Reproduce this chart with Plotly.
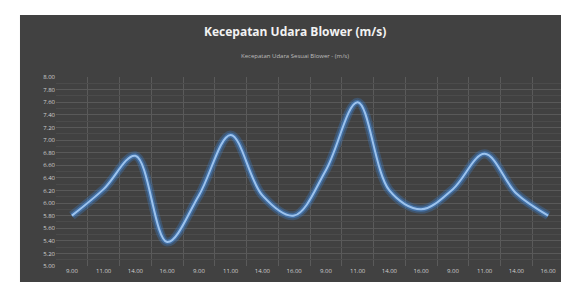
import plotly.graph_objects as go

x_labels = ["9.00", "11.00", "14.00", "16.00", "9.00", "11.00", "14.00", "16.00",
            "9.00", "11.00", "14.00", "16.00", "9.00", "11.00", "14.00", "16.00"]
kecepatan = [5.80, 6.22, 6.75, 5.38, 6.12, 7.08, 6.12, 5.80,
             6.52, 7.60, 6.20, 5.90, 6.22, 6.78, 6.15, 5.80]
y_ticks = [5.0 + 0.2 * i for i in range(16)]
title_text = "Kecepatan Udara Blower (m/s)"
series_name = "Kecepatan Udara Sesuai Blower - (m/s)"

xs = list(range(len(kecepatan)))

fig = go.Figure()
# glow
fig.add_trace(go.Scatter(x=xs, y=kecepatan, mode="lines",
                         line=dict(shape="spline", smoothing=1.0, color="rgba(60,120,190,0.35)", width=9),
                         hoverinfo="skip", showlegend=False))
fig.add_trace(go.Scatter(x=xs, y=kecepatan, mode="lines",
                         line=dict(shape="spline", smoothing=1.0, color="rgba(70,130,200,0.6)", width=5),
                         hoverinfo="skip", showlegend=False))
fig.add_trace(go.Scatter(x=xs, y=kecepatan, mode="lines", name=series_name,
                         line=dict(shape="spline", smoothing=1.0, color="#9cc3ee", width=2),
                         showlegend=False))

fig.update_layout(
    width=569, height=282,
    margin=dict(l=48, r=13, t=69, b=24),
    paper_bgcolor="white",
    plot_bgcolor="rgba(0,0,0,0)",
    font=dict(family="Open Sans, sans-serif", color="#d0d0d0", size=6),
    shapes=[dict(type="rect", xref="paper", yref="paper",
                 x0=-0.0709, x1=1.0177, y0=-0.2, y1=1.328,
                 fillcolor="#414141", line=dict(width=0), layer="below")],
    annotations=[
        dict(text="<b>" + title_text + "</b>", xref="paper", yref="paper",
             x=0.47, y=1.24, showarrow=False, xanchor="center", yanchor="middle",
             font=dict(size=12, color="#f2f2f2")),
        dict(text=series_name, xref="paper", yref="paper",
             x=0.47, y=1.11, showarrow=False, xanchor="center", yanchor="middle",
             font=dict(size=6, color="#bdbdbd")),
    ],
)
fig.update_xaxes(
    range=[-0.5, len(kecepatan) - 0.5],
    tickmode="array", tickvals=xs, ticktext=x_labels,
    showgrid=False, zeroline=False, showline=False, ticks="",
    tickfont=dict(size=6, color="#d0d0d0"),
    minor=dict(tick0=-0.5, dtick=1, showgrid=True, gridcolor="#5a5a5a", gridwidth=1),
)
fig.update_yaxes(
    range=[5.0, 8.0],
    tickmode="array", tickvals=y_ticks, ticktext=[f"{v:.2f}" for v in y_ticks],
    showgrid=True, gridcolor="#595959", gridwidth=1, zeroline=False, showline=False,
    tickfont=dict(size=6, color="#d0d0d0"),
    minor=dict(dtick=0.1, showgrid=True, gridcolor="#4b4b4b", gridwidth=1),
)

fig.write_html("out.html")
